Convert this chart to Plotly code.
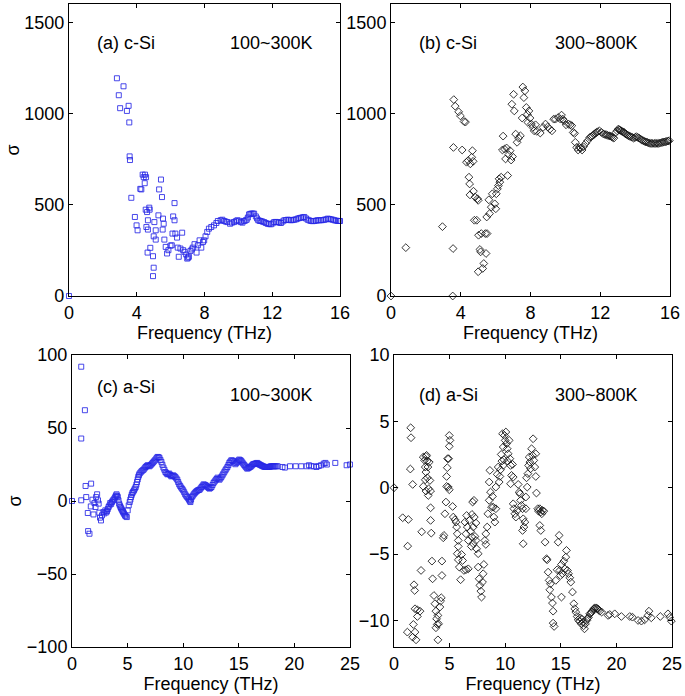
import plotly.graph_objects as go

# ---------------- data ----------------
# (a) c-Si 100~300K
a_freq = [0, 2.83, 2.94, 3.22, 3.02, 3.42, 3.52, 3.56, 3.58, 3.60, 3.68, 3.89, 3.99, 4.05, 4.21, 4.27,
          4.35, 4.41, 4.47, 4.49, 4.55, 4.53, 4.61, 4.66, 4.74, 4.76, 4.57, 4.66, 4.64, 4.80, 4.96, 5.00,
          4.96, 5.00, 5.04, 5.12, 5.12, 5.28, 5.32, 5.43, 5.49, 5.55, 5.59, 5.53, 5.63, 5.71, 5.79, 5.87,
          5.99, 6.07, 6.11, 6.15, 6.23, 6.23, 6.28, 6.38, 6.42, 6.48, 6.58, 6.68, 6.74, 6.82, 6.92, 6.98,
          7.03, 7.08, 7.17, 7.25, 7.31, 7.41, 7.53, 7.61, 7.71, 7.81, 7.91, 7.98, 8.06, 8.16, 8.26, 8.40,
          8.56, 8.70, 8.79, 8.95, 9.05, 9.15, 9.25, 9.35, 9.51, 9.62, 9.74, 9.85, 9.94, 10.04, 10.14, 10.24,
          10.34, 10.42, 10.49, 10.56, 10.63, 10.70, 10.77, 10.85, 10.93, 11.03, 11.10, 11.17, 11.25, 11.32,
          11.42, 11.52, 11.62, 11.72, 11.82, 11.92, 12.02, 12.11, 12.21, 12.31, 12.41, 12.51, 12.61, 12.71,
          12.81, 12.91, 13.00, 13.10, 13.20, 13.30, 13.40, 13.50, 13.60, 13.70, 13.80, 13.89, 13.99, 14.09,
          14.19, 14.29, 14.39, 14.49, 14.59, 14.68, 14.78, 14.88, 14.98, 15.08, 15.18, 15.28, 15.38, 15.47,
          15.57, 15.67, 15.77, 15.87, 15.95, 16.0]
a_sigma = [0, 1193, 1100, 1149, 1029, 1014, 1042, 951, 765, 745, 538, 433, 387, 360, 587, 584,
           665, 651, 618, 665, 651, 473, 460, 415, 484, 473, 378, 364, 238, 264, 218, 155,
           109, 327, 405, 360, 309, 442, 584, 638, 542, 424, 396, 364, 309, 269, 233, 251,
           276, 278, 342, 436, 415, 509, 342, 320, 265, 215, 260, 347, 251, 242, 227, 205,
           210, 215, 247, 255, 265, 284, 238, 278, 305, 265, 296, 305, 327, 351, 369, 378,
           387, 400, 411, 415, 418, 411, 408, 405, 396, 402, 405, 410, 415, 412, 405, 402,
           411, 414, 418, 430, 447, 450, 451, 452, 451, 436, 425, 415, 412, 411,
           408, 405, 400, 396, 394, 393, 398, 405, 406, 405, 402, 400, 408, 415,
           416, 418, 417, 415, 416, 418, 420, 424, 427, 429, 431, 433, 425, 418,
           414, 411, 410, 411, 413, 415, 415, 415, 416, 418, 420, 424, 422, 420,
           418, 415, 413, 411, 411, 411]

# (b) c-Si 300~800K
b_freq = [0, 0.85, 2.95, 3.54, 3.56, 3.58, 3.60, 3.68, 3.88, 3.98, 4.08, 4.19, 4.27, 4.33, 4.43, 4.47,
          4.51, 4.55, 4.63, 4.67, 4.71, 4.53, 4.73, 4.82, 4.78, 4.92, 4.96, 5.00, 5.02, 5.10, 5.14, 5.00,
          5.18, 5.26, 5.32, 5.41, 5.45, 5.51, 5.49, 5.61, 5.65, 5.75, 5.81, 5.95, 6.01, 6.04, 6.10, 6.16,
          6.20, 6.24, 6.32, 6.39, 6.43, 6.51, 6.57, 6.63, 6.69, 6.75, 6.83, 6.89, 6.93, 6.97, 7.03, 7.07,
          7.15, 7.23, 7.32, 7.42, 7.52, 7.56, 7.62, 7.68, 7.76, 7.82, 7.85, 7.91, 7.97, 8.05, 8.13, 8.21,
          8.29, 8.36, 8.56, 8.72, 8.86, 8.99, 9.11, 9.23, 9.33, 9.43, 9.59, 9.72, 9.78, 9.86, 9.92, 10.04,
          10.18, 10.28, 10.37, 10.45, 10.53, 10.57, 10.65, 10.73, 10.81, 10.89, 10.96, 11.04, 11.16, 11.28,
          11.40, 11.48, 11.56, 11.64, 11.71, 11.78, 11.85, 11.95, 12.07, 12.19, 12.27, 12.34, 12.42, 12.50,
          12.57, 12.64, 12.71, 12.78, 12.90, 12.97, 13.03, 13.08, 13.13, 13.19, 13.25, 13.31, 13.37, 13.42,
          13.48, 13.55, 13.62, 13.69, 13.76, 13.84, 13.92, 14.00, 14.07, 14.15, 14.23, 14.31, 14.39, 14.47,
          14.55, 14.62, 14.70, 14.78, 14.86, 14.94, 15.02, 15.10, 15.18, 15.26, 15.33, 15.41, 15.49, 15.57,
          15.65, 15.73, 15.81, 15.89, 15.96]
b_sigma = [0, 265, 380, 0, 260, 814, 1076, 1040, 1009, 987, 800, 956, 953, 733, 742, 651,
           614, 724, 760, 796, 738, 554, 574, 542, 415, 415, 533, 524, 333, 255, 242, 133,
           342, 151, 178, 342, 233, 342, 433, 527, 451, 487, 560, 505, 478, 560, 587, 605,
           642, 624, 651, 800, 876, 805, 751, 811, 660, 774, 796, 745, 1051, 764, 1105, 1014,
           887, 842, 865, 878, 975, 1145, 1087, 1124, 1033, 996, 951, 1014, 975, 942, 924, 905,
           938, 902, 893, 924, 942, 927, 914, 905, 969, 969, 978, 969, 991, 969, 960, 938,
           942, 938, 933, 896, 891, 842, 814, 800, 814, 811, 800, 818, 836, 851,
           869, 872, 878, 885, 891, 896, 900, 905, 896, 887, 885, 884, 880, 878,
           876, 873, 869, 865, 896, 905, 914, 912, 909, 905, 902, 899, 896, 891,
           887, 882, 878, 875, 873, 869, 865, 869, 873, 869, 865, 860, 854, 850,
           847, 844, 842, 839, 836, 836, 836, 836, 836, 836, 836, 838, 840, 842,
           844, 845, 847, 849, 851]

# (c) a-Si 100~300K
c_freq = [0, 0.83, 0.83, 0.83, 1.16, 1.22, 1.28, 1.42, 1.45, 1.57, 1.72, 1.69, 1.84, 1.93, 2.02, 2.11,
          2.17, 2.26, 2.34, 2.40, 2.46, 2.52, 2.61, 2.70, 2.82, 2.91, 3.00, 3.08, 3.15, 3.22, 3.29, 3.37,
          3.44, 3.52, 3.59, 3.66, 3.74, 3.82, 3.89, 3.95, 4.01, 4.06, 4.12, 4.18, 4.24, 4.30, 4.36, 4.42,
          4.48, 4.54, 4.60, 4.66, 4.72, 4.78, 4.84, 4.93, 5.01, 5.10, 5.19, 5.25, 5.31, 5.37, 5.43, 5.50,
          5.58, 5.65, 5.73, 5.79, 5.85, 5.91, 5.96, 6.02, 6.08, 6.17, 6.26, 6.35, 6.44, 6.53, 6.62, 6.71,
          6.80, 6.88, 6.97, 7.06, 7.15, 7.24, 7.33, 7.42, 7.51, 7.60, 7.69, 7.78, 7.86, 7.95, 8.04, 8.13,
          8.22, 8.31, 8.40, 8.49, 8.58, 8.66, 8.75, 8.84, 8.93, 9.02, 9.11, 9.20, 9.29, 9.38, 9.47, 9.55,
          9.64, 9.73, 9.82, 9.91, 10.00, 10.09, 10.18, 10.27, 10.36, 10.45, 10.53, 10.60, 10.65, 10.71,
          10.77, 10.86, 10.95, 11.04, 11.13, 11.22, 11.31, 11.40, 11.48, 11.57, 11.66, 11.75, 11.84, 11.93,
          12.02, 12.11, 12.20, 12.29, 12.37, 12.46, 12.55, 12.64, 12.73, 12.82, 12.91, 13.00, 13.09, 13.18,
          13.26, 13.35, 13.44, 13.53, 13.62, 13.71, 13.80, 13.89, 13.98, 14.07, 14.15, 14.24, 14.33, 14.42,
          14.51, 14.60, 14.69, 14.78, 14.87, 14.96, 15.04, 15.13, 15.22, 15.31, 15.40, 15.49, 15.58, 15.67,
          15.76, 15.85, 15.93, 16.02, 16.11, 16.20, 16.29, 16.38, 16.47, 16.56, 16.65, 16.74, 16.82, 16.91,
          17.00, 17.09, 17.18, 17.27, 17.36, 17.45, 17.54, 17.63, 17.72, 17.81, 17.89, 17.98, 18.07, 18.16,
          18.25, 18.37, 18.49, 18.93, 19.14, 19.61, 20.12, 20.62, 21.10, 21.31, 21.51, 21.75, 21.99, 22.20,
          22.40, 22.64, 22.79, 22.92, 23.68, 24.70, 25.0]
c_sigma = [0, 92, 42.8, 0.5, 62.2, 10.3, 2.7, -8.2, -20.6, -22.4, 11.9, -3.7, 0.9, -9.2, -1.4, -4.1,
           2.7, 4.6, 0.5, -1.8, -8.0, -11.4, -13.3, -9.8, -7.6, -8.5, -6.4, -7.8, -6.9, -5.5, -4.1, -3.0,
           -1.4, -2.0, -0.7, 0.2, 0.9, 1.8, 2.7, 3.8, 4.6, 3.5, 2.7, 0.5, -1.8, -3.0, -4.1, -5.0,
           -5.9, -6.8, -7.6, -8.4, -9.2, -10.0, -10.5, -11.0, -6.4, -3.0, -0.7, 1.0, 2.7, 4.2, 5.5, 6.4,
           7.3, 8.5, 9.6, 11.2, 13.0, 14.8, 16.5, 17.7, 18.8, 19.6, 20.4, 21.0, 21.5, 22.4, 23.3, 23.9,
           24.5, 24.2, 23.8, 24.5, 25.2, 26.0, 26.8, 27.6, 28.4, 29.3, 30.2, 30.0, 29.7, 28.2, 26.8, 24.8,
           22.9, 21.4, 19.9, 19.1, 18.3, 18.5, 18.8, 17.8, 16.9, 17.2, 17.6, 17.0, 16.5, 15.5, 14.6, 13.0,
           11.4, 10.3, 9.2, 8.3, 7.3, 6.0, 4.6, 3.6, 2.7, 1.8, 0.9, 0.1, -0.7, 1.0,
           2.7, 3.6, 4.6, 5.4, 6.2, 6.8, 7.3, 7.6, 7.8, 8.7, 9.6, 10.5, 11.4, 11.1,
           10.8, 10.2, 9.6, 9.0, 8.5, 9.0, 9.6, 11.0, 12.4, 13.3, 14.2, 15.1, 16.0, 15.3,
           14.6, 15.5, 16.5, 17.6, 18.8, 20.0, 21.1, 22.2, 23.3, 24.7, 26.1, 27.0, 27.9, 27.7,
           27.5, 26.4, 25.2, 26.0, 26.8, 27.6, 28.4, 28.0, 27.5, 26.5, 25.6, 24.7, 23.8, 23.0,
           22.2, 22.5, 22.9, 23.3, 23.8, 24.5, 25.2, 25.4, 25.6, 25.8, 26.1, 25.6, 25.2, 24.8,
           24.5, 24.1, 23.8, 23.5, 23.3, 23.3, 23.3, 23.3, 23.3, 23.5, 23.8, 23.8, 23.8, 23.8,
           23.8, 23.8, 23.8, 23.3, 22.9, 23.8, 23.8, 23.8, 23.8, 24.5, 23.8, 23.8, 23.3, 24.0,
           24.5, 25.6, 26.1, 25.0, 26.1, 24.5, 25.0]

# (d) a-Si 300~800K
d_freq = [0, 0.78, 1.29, 1.23, 1.20, 1.50, 1.53, 1.47, 1.68, 1.80, 1.86, 1.74, 1.89, 1.98, 1.68, 1.89,
          2.10, 2.10, 2.34, 2.43, 2.49, 2.63, 2.75, 2.87, 2.93, 2.99, 3.05, 2.81, 2.87, 2.99, 2.81, 2.63,
          2.87, 3.11, 3.08, 3.23, 3.29, 3.17, 3.29, 3.29, 3.35, 3.41, 3.47, 3.59, 3.68, 3.77, 3.83, 3.89,
          3.77, 3.95, 4.01, 3.95, 4.13, 4.19, 4.25, 4.31, 4.31, 4.43, 4.49, 4.58, 4.67, 4.73, 4.73, 4.79,
          4.82, 4.91, 4.97, 5.03, 4.97, 4.88, 4.97, 5.27, 5.33, 5.48, 5.57, 5.63, 5.69, 5.78, 5.78, 5.69,
          5.78, 5.87, 5.99, 6.08, 6.17, 6.29, 6.47, 6.68, 6.68, 6.47, 6.59, 6.38, 6.53, 6.77, 6.89, 7.01,
          7.13, 6.95, 7.13, 7.28, 7.37, 7.43, 7.22, 7.01, 7.07, 7.19, 7.37, 7.57, 7.57, 7.66, 7.72, 7.81,
          7.87, 7.96, 8.02, 8.08, 8.17, 8.26, 8.26, 8.38, 8.44, 8.56, 8.56, 8.62, 8.68, 8.77, 8.86, 8.92,
          8.98, 9.07, 9.16, 9.16, 9.28, 9.37, 9.46, 9.52, 9.58, 9.64, 9.70, 9.82, 9.88, 9.82, 9.76, 9.94,
          10.00, 10.06, 10.12, 10.18, 10.27, 10.21, 10.36, 10.42, 10.48, 10.57, 10.66, 10.72, 10.48, 10.72,
          10.78, 10.87, 10.96, 11.08, 11.17, 11.26, 11.32, 11.38, 11.47, 11.56, 11.62, 11.68, 11.56, 11.62,
          11.77, 11.86, 11.86, 11.98, 11.92, 12.04, 12.10, 12.16, 12.22, 12.28, 12.37, 12.46, 12.51, 12.57,
          12.66, 12.75, 12.75, 12.81, 12.93, 12.99, 13.11, 13.20, 13.29, 13.11, 13.20, 13.35, 13.47, 13.59,
          13.71, 13.77, 13.86, 13.95, 14.01, 14.07, 14.16, 14.25, 14.31, 14.31, 14.40, 14.55, 14.67, 14.76,
          14.85, 14.91, 14.97, 15.06, 15.06, 15.15, 15.27, 15.36, 15.45, 15.51, 15.60, 15.69, 15.81, 15.90,
          16.05, 16.17, 16.26, 16.35, 16.47, 16.56, 16.68, 16.75, 16.83, 16.90, 16.98, 17.05, 17.13, 17.22,
          17.34, 17.41, 17.49, 17.60, 17.70, 17.78, 17.87, 17.96, 18.05, 18.14, 18.23, 18.32, 18.41, 18.50,
          18.68, 19.25, 19.40, 19.85, 20.45, 21.20, 21.44, 21.95, 22.25, 22.54, 22.84, 22.93, 23.14, 23.95,
          24.64, 24.79, 24.94]
d_sigma = [0, -2.26, -2.39, -4.40, -10.88, 4.52, 3.77, 1.41, 0.25, -7.31, -7.74, -10.30, -10.88, -11.46, -11.26, -9.12,
           -9.20, -9.70, -9.30, -6.23, -3.32, 2.31, 2.06, 2.36, 2.44, 2.01, 1.56, 1.56, 1.18, 0.75, 0.60, 0.10,
           -0.25, -0.08, -0.58, 0.55, -0.25, 1.93, -1.51, -2.46, -3.42, -5.53, -6.86, -8.12, -8.74, -9.30, -9.87, -10.30,
           -10.55, -9.62, -10.25, -11.46, -8.99, -8.54, -8.29, -5.53, -6.61, -3.77, -3.59, -1.96, -1.08, 0.10, 0.85, 1.51,
           2.19, 2.19, 3.12, 3.57, 3.94, 0.05, -0.15, -1.41, -2.21, -2.41, -2.59, -2.96, -3.47, -3.97, -4.42, -4.97,
           -5.43, -5.98, -6.93, -5.03, -5.48, -6.23, -6.18, -6.11, -3.97, -3.47, -2.96, -2.59, -2.09, -2.46, -3.27, -3.72,
           -2.96, -4.42, -4.22, -3.67, -3.97, -4.60, -2.21, -2.01, -1.08, -0.95, -2.66, -4.97, -5.98, -6.86, -7.36, -7.79,
           -8.24, -7.11, -6.48, -5.78, -3.97, -3.47, -4.27, -2.96, -1.96, -0.95, 0.43, 1.31, -0.33, -1.46, -0.65, -1.46,
           -2.21, -2.59, -1.58, 0.05, 1.01, 1.56, 0.43, 0.85, 1.36, 2.51, 2.01, 1.68, 2.11, 3.07, 4.07, 3.94,
           3.57, 4.20, 3.32, 2.94, 2.56, 2.01, 3.57, 2.19, 1.68, 0.93, 1.76, 0.80, 0.30, -1.21,
           -1.58, -1.96, -2.21, -1.71, 0.25, -0.33, -0.45, -0.95, -1.33, -1.58, -2.34, -2.96, -3.22, -4.22,
           -2.59, -1.58, -0.70, 0.05, 0.75, 1.06, 1.68, 2.31, 1.93, 1.43, 2.94, 2.44, 3.69, 2.06,
           1.56, 0.85, 2.56, -0.40, -1.58, -1.76, -1.58, -1.83, -1.96, -2.84, -3.22, -1.71, -1.76, -4.10,
           -5.35, -5.43, -6.36, -6.98, -7.69, -7.24, -8.24, -8.69, -9.30, -10.20, -10.45, -6.98, -6.18, -4.10,
           -3.59, -6.23, -6.61, -5.78, -8.24, -6.48, -5.53, -6.11, -5.23, -4.72, -6.23, -6.48, -6.78, -7.11,
           -7.86, -8.74, -9.12, -9.37, -9.70, -9.95, -10.05, -9.80, -10.25, -9.90, -10.13, -10.40, -10.63, -10.25,
           -10.00, -9.85, -9.75, -9.50, -9.45, -9.37, -9.25, -9.12, -9.08, -9.05, -9.10, -9.12, -9.20, -9.30,
           -9.37, -9.62, -9.55, -9.50, -9.70, -9.70, -9.75, -10.00, -10.05, -9.95, -9.62, -9.30, -9.80, -9.70,
           -9.50, -9.75, -10.05]

a_ticks = [0, 4, 8, 12, 16]
c_ticks = [0, 5, 10, 15, 20, 25]
ab_yticks = [0, 500, 1000, 1500]
c_yticks = [-100, -50, 0, 50, 100]
d_yticks = [-10, -5, 0, 5, 10]

# ---------------- figure ----------------
FONT = "Liberation Sans, Arial, Helvetica, sans-serif"
BLUE = "rgba(40,40,230,0.85)"
BLACK = "rgba(20,20,20,0.85)"

fig = go.Figure()
sq = dict(symbol="square-open", size=5, color=BLUE, line=dict(width=1, color=BLUE))
di = dict(symbol="diamond-open", size=6, color=BLACK, line=dict(width=1, color=BLACK))

fig.add_trace(go.Scatter(x=a_freq, y=a_sigma, mode="markers", marker=sq, xaxis="x", yaxis="y", cliponaxis=False))
fig.add_trace(go.Scatter(x=b_freq, y=b_sigma, mode="markers", marker=di, xaxis="x2", yaxis="y2", cliponaxis=False))
fig.add_trace(go.Scatter(x=c_freq, y=c_sigma, mode="markers", marker=sq, xaxis="x3", yaxis="y3", cliponaxis=False))
fig.add_trace(go.Scatter(x=d_freq, y=d_sigma, mode="markers", marker=di, xaxis="x4", yaxis="y4", cliponaxis=False))

common = dict(showline=True, linecolor="black", linewidth=1, mirror="ticks", ticks="inside",
              ticklen=4, tickcolor="black", showgrid=False, zeroline=False, automargin=False,
              tickfont=dict(family=FONT, size=18, color="black"))
xtitle = dict(text="Frequency (THz)", font=dict(family=FONT, size=18, color="black"), standoff=0)
ytitle = dict(text="σ", font=dict(family=FONT, size=18, color="black"), standoff=0)

fig.update_layout(
    width=685, height=696, showlegend=False,
    paper_bgcolor="white", plot_bgcolor="white",
    margin=dict(l=0, r=0, t=0, b=0, autoexpand=False),
    xaxis=dict(domain=[0.1007, 0.4964], range=[0, 16], tickvals=a_ticks, title=xtitle, anchor="y", **common),
    yaxis=dict(domain=[0.5747, 0.9943], range=[0, 1600], tickvals=ab_yticks, title=ytitle, anchor="x", **common),
    xaxis2=dict(domain=[0.5708, 0.9781], range=[0, 16], tickvals=a_ticks, title=xtitle, anchor="y2", **common),
    yaxis2=dict(domain=[0.5747, 0.9943], range=[0, 1600], tickvals=ab_yticks, anchor="x2", **common),
    xaxis3=dict(domain=[0.1051, 0.5109], range=[0, 25], tickvals=c_ticks, title=xtitle, anchor="y3", **common),
    yaxis3=dict(domain=[0.0704, 0.4899], range=[-100, 100], tickvals=c_yticks, title=ytitle, anchor="x3", **common),
    xaxis4=dict(domain=[0.5752, 0.9810], range=[0, 25], tickvals=c_ticks, title=xtitle, anchor="y4", **common),
    yaxis4=dict(domain=[0.0704, 0.4899], range=[-12, 10], tickvals=d_yticks, anchor="x4", **common),
)

labels = [
    ("(a) c-Si", 126, 43), ("100~300K", 271, 43),
    ("(b) c-Si", 448, 43), ("300~800K", 596, 43),
    ("(c) a-Si", 126, 387), ("100~300K", 271, 395),
    ("(d) a-Si", 448, 395), ("300~800K", 596, 395),
]
for txt, px, py in labels:
    fig.add_annotation(text=txt, xref="paper", yref="paper", x=px / 685, y=1 - py / 696,
                       xanchor="center", yanchor="middle", showarrow=False,
                       font=dict(family=FONT, size=18, color="black"))

fig.write_html("out.html", config={"displayModeBar": False},
               post_script="document.body.style.margin='0';document.body.style.overflow='hidden';")
